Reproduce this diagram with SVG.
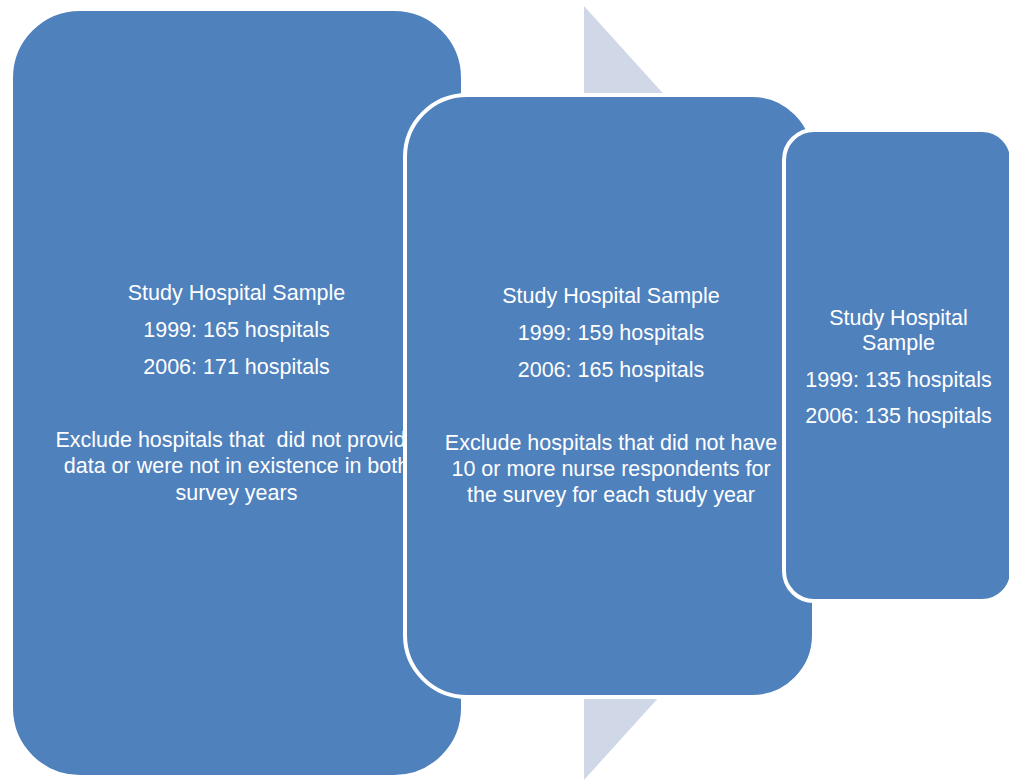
<svg xmlns="http://www.w3.org/2000/svg" width="1009" height="781" viewBox="0 0 1009 781">
  <style>
    .box { fill: #4F81BD; stroke: #FFFFFF; stroke-width: 4; }
    .arrow { fill: #D0D8E8; }
    .lbl { font-family: "Liberation Sans", Arial, sans-serif; font-size: 21.5px; fill: #FFFFFF; text-anchor: middle; }
  </style>
  <rect width="1009" height="781" fill="#FFFFFF"/>

  <!-- background process arrow -->
  <g id="flow-arrow">
    <polygon class="arrow" points="584,6 934,393 584,780"/>
  </g>

  <g id="connectors"></g>

  <!-- stage 1 -->
  <g id="stage1">
    <rect class="box" x="11" y="9" width="452" height="768" rx="69" ry="69" stroke="none"/>
    <text class="lbl" x="236.5" y="300">Study Hospital Sample</text>
    <text class="lbl" x="236.5" y="337">1999: 165 hospitals</text>
    <text class="lbl" x="236.5" y="374">2006: 171 hospitals</text>
    <text class="lbl" x="236.5" y="447" xml:space="preserve">Exclude hospitals that  did not provide</text>
    <text class="lbl" x="236.5" y="473">data or were not in existence in both</text>
    <text class="lbl" x="236.5" y="500">survey years</text>
  </g>

  <!-- stage 2 -->
  <g id="stage2">
    <rect class="box" x="405" y="95" width="409" height="602" rx="62" ry="62"/>
    <text class="lbl" x="611" y="303">Study Hospital Sample</text>
    <text class="lbl" x="611" y="340">1999: 159 hospitals</text>
    <text class="lbl" x="611" y="377">2006: 165 hospitals</text>
    <text class="lbl" x="611" y="450">Exclude hospitals that did not have</text>
    <text class="lbl" x="611" y="476">10 or more nurse respondents for</text>
    <text class="lbl" x="611" y="502">the survey for each study year</text>
  </g>

  <!-- stage 3 -->
  <g id="stage3">
    <rect class="box" x="784" y="130" width="228" height="471" rx="30" ry="30"/>
    <text class="lbl" x="898.5" y="325">Study Hospital</text>
    <text class="lbl" x="898.5" y="350">Sample</text>
    <text class="lbl" x="898.5" y="387">1999: 135 hospitals</text>
    <text class="lbl" x="898.5" y="423">2006: 135 hospitals</text>
  </g>
</svg>
